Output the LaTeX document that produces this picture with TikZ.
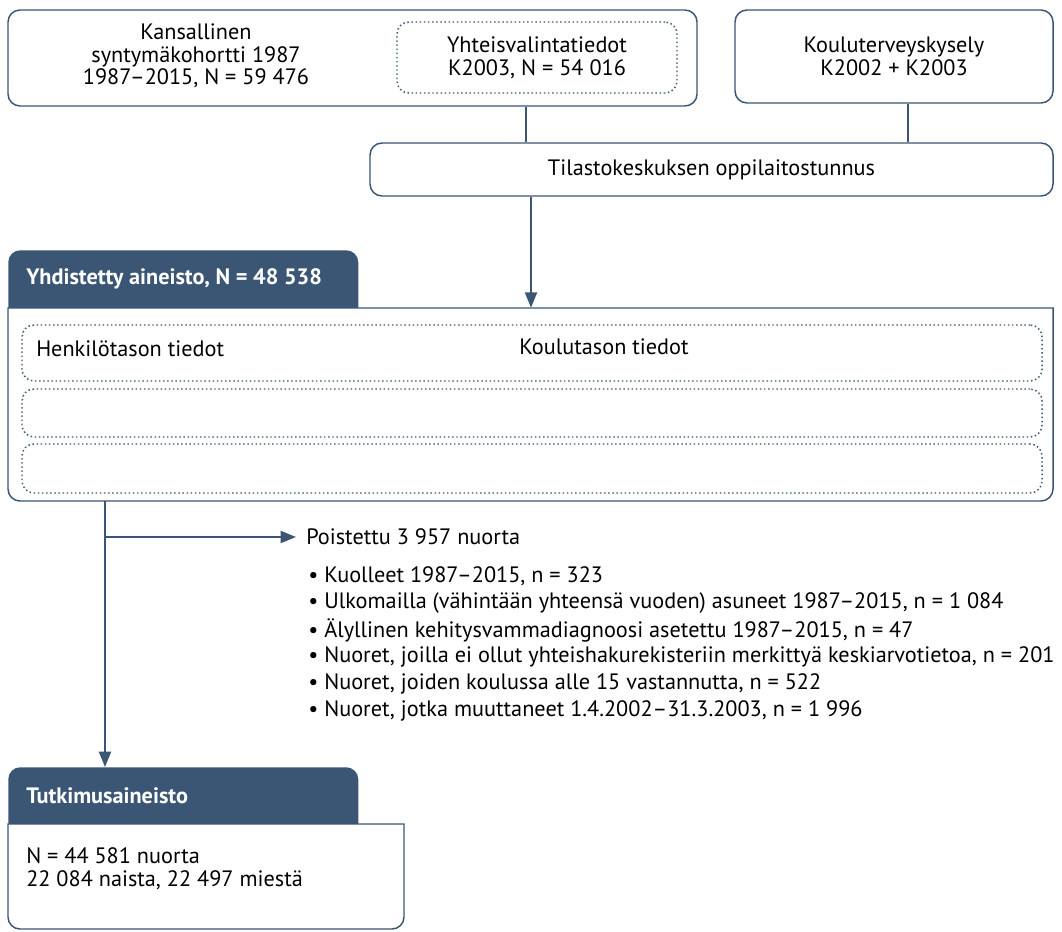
\documentclass[tikz,border=0pt]{standalone}
\usepackage{fontspec}
\setmainfont{PT Sans}
\usetikzlibrary{arrows.meta, positioning}
\definecolor{navy}{RGB}{59,86,117}

\begin{document}
\begin{tikzpicture}[x=0.75pt, y=-0.75pt,
    box/.style={draw=navy, line width=1.1pt, rounded corners=9pt, fill=white},
    dotbox/.style={draw=navy, line width=1.1pt, dotted, rounded corners=9pt},
    tab/.style={fill=navy, rounded corners=9pt, anchor=north west, inner sep=0pt},
    link/.style={draw=navy, line width=1.5pt},
    arr/.style={link, -{Triangle[length=11.5pt, width=9pt]}},
    txt/.style={align=center, inner sep=0pt, font=\fontsize{16.7}{17}\selectfont},
    lefttxt/.style={anchor=west, inner sep=0pt, font=\fontsize{16.7}{17}\selectfont},
    headtxt/.style={anchor=west, inner sep=0pt, text=white, font=\bfseries\fontsize{16.7}{17}\selectfont}]
    \useasboundingbox (0,0) rectangle (1062,931);
    % Sources
    \node[box, minimum width=516.75pt, minimum height=72pt] (cohort) at (352.5,58) {};
    \node[txt] (cohorttxt) at (196,56) {Kansallinen\\syntymäkohortti 1987\\1987–2015, N = 59 476};
    \node[dotbox, txt, minimum width=210pt, minimum height=53.25pt] (joint) at (537,57.5) {Yhteisvalintatiedot\\K2003, N = 54 016};
    \node[box, txt, minimum width=238.5pt, minimum height=69.75pt] (survey) at (894,56.5) {Kouluterveyskysely\\K2002 + K2003};
    \node[box, txt, minimum width=512.25pt, minimum height=39.75pt] (stat) at (711.5,169.5) {Tilastokeskuksen oppilaitostunnus};
    % Merged data
    \node[tab, minimum width=262.5pt, minimum height=52.5pt] (mergedtab) at (8,250) {};
    \draw[box, rounded corners=0pt] (8,308) -- (1053,308) -- (1053,330) [rounded corners=9pt] -- (1053,501) -- (8,501) -- (8,330) [sharp corners] -- cycle;
    \node[minimum width=783.75pt, minimum height=144.75pt, inner sep=0pt] (merged) at (530.5,404.5) {};
    \node[headtxt] (mergedtitle) at (26,279) {Yhdistetty aineisto, N = 48 538};
    \node[dotbox, minimum width=765pt, minimum height=42pt] (row1) at (532,353) {};
    \node[dotbox, minimum width=765pt, minimum height=36pt] (row2) at (532,413) {};
    \node[dotbox, minimum width=765pt, minimum height=36.75pt] (row3) at (532,468.5) {};
    \node[lefttxt] (persons) at (36,349) {Henkilötason tiedot};
    \node[txt] (schools) at (604,347) {Koulutason tiedot};
    % Study data
    \node[tab, minimum width=262.5pt, minimum height=52.5pt] (studytab) at (8,767) {};
    \draw[box, rounded corners=0pt] (8,824) -- (404,824) -- (404,846) [rounded corners=9pt] -- (404,929) -- (8,929) -- (8,846) [sharp corners] -- cycle;
    \node[headtxt] (studytitle) at (26,796) {Tutkimusaineisto};
    \node[lefttxt, align=left] (studytxt) at (26,869) {N = 44 581 nuorta\\22 084 naista, 22 497 miestä};
    % Removed
    \node[lefttxt] (removed) at (306,537) {Poistettu 3 957 nuorta};
    \foreach \item [count=\i] in {{Kuolleet 1987–2015, n = 323},
        {Ulkomailla (vähintään yhteensä vuoden) asuneet 1987–2015, n = 1 084},
        {Älyllinen kehitysvammadiagnoosi asetettu 1987–2015, n = 47},
        {Nuoret, joilla ei ollut yhteishakurekisteriin merkittyä keskiarvotietoa, n = 201},
        {Nuoret, joiden koulussa alle 15 vastannutta, n = 522},
        {Nuoret, jotka muuttaneet 1.4.2002–31.3.2003, n = 1 996}} {
        \node[lefttxt] (reason\i) at (308,549+27*\i) {\textbullet\ \item};
    }
    % Connectors
    \coordinate (split) at (105,537);
    \draw[link] (cohort.south -| 526,0) -- (stat.north -| 526,0);
    \draw[link] (survey.south -| 908,0) -- (stat.north -| 908,0);
    \draw[arr] (stat.south -| 531,0) -- (merged.north -| 531,0);
    \draw[arr] (merged.south -| split) -- (studytab.north -| split);
    \draw[arr, shorten >=7.5pt] (split) -- (removed.west);
\end{tikzpicture}
\end{document}
